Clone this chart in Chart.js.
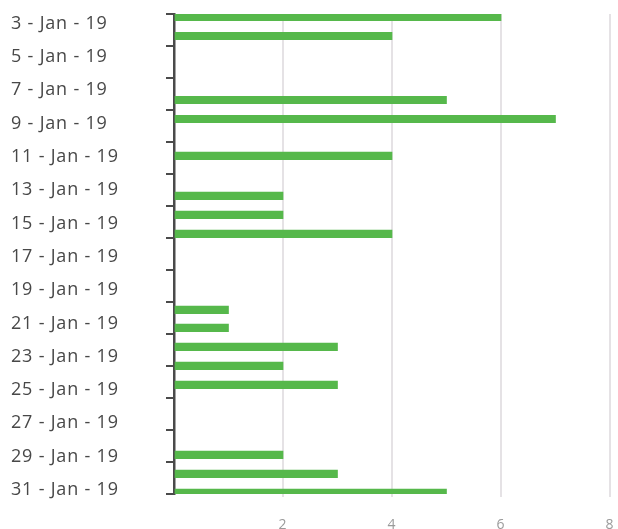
<!DOCTYPE html>
<html>
<head>
<meta charset="utf-8">
<script src="https://cdn.jsdelivr.net/npm/chart.js@4.4.1/dist/chart.umd.min.js"></script>
<style>
  html, body { margin: 0; padding: 0; background: #fff; overflow: hidden; }
  #wrap { width: 618px; height: 529px; }
</style>
</head>
<body>
<div id="wrap"><canvas id="chart"></canvas></div>
<script>
// day of January where each bar sits
const barDays = [2.61, 3.75, 7.59, 8.73, 10.95, 13.35, 14.49, 15.63, 20.19, 21.27, 22.41, 23.55, 24.69, 28.89, 30.03, 31.17];
const barValues = [6, 4, 5, 7, 4, 2, 2, 4, 1, 1, 3, 2, 3, 2, 3, 5];
const labelDays = [3, 5, 7, 9, 11, 13, 15, 17, 19, 21, 23, 25, 27, 29, 31];
const xTicks = [0, 2, 4, 6, 8];
const axisMarks = [0, 1, 2, 3, 4, 5, 6, 7, 8, 9, 10, 11, 12, 13, 14, 15];

const green = "#56b84b";
const axisColor = "#4a4a4a";
const gridColor = "rgba(80, 60, 80, 0.15)";
const fontFamily = "'Open Sans', sans-serif";

const points = barDays.map((d, i) => ({ x: barValues[i], y: d }));

// the original font is wider, spread the letters a little
const spacing = {
  id: "spacing",
  beforeDraw: (chart) => {
    chart.ctx.letterSpacing = "0.8px";
  },
};

new Chart(document.getElementById("chart"), {
  type: "bar",
  data: {
    datasets: [
      {
        data: points,
        backgroundColor: green,
        borderWidth: 0,
        barThickness: 7.5,
      },
    ],
  },
  plugins: [spacing],
  options: {
    indexAxis: "y",
    responsive: true,
    maintainAspectRatio: false,
    animation: false,
    layout: { padding: { left: 11, right: 8, top: 14, bottom: 0 } },
    plugins: {
      legend: { display: false },
      tooltip: { enabled: false },
    },
    scales: {
      x: {
        type: "linear",
        min: xTicks[0],
        max: xTicks[xTicks.length - 1],
        offset: false,
        z: 1,
        afterBuildTicks: (scale) => {
          scale.ticks = xTicks.map((v) => ({ value: v }));
        },
        afterFit: (scale) => {
          scale.height = 35;
          // keep the tick padding from eating the right edge
          scale.paddingLeft = 0;
          scale.paddingRight = 0;
        },
        border: { display: false },
        grid: {
          color: (ctx) => (ctx.tick && ctx.tick.value === 0 ? "rgba(0,0,0,0)" : gridColor),
          lineWidth: 2,
          tickLength: 3,
        },
        ticks: {
          color: "#9a9a9a",
          font: { family: fontFamily, size: 14 },
          padding: 20,
          callback: (v) => (v === 0 ? "" : v),
        },
      },
      y: {
        type: "linear",
        position: "left",
        weight: 1,
        reverse: true,
        offset: false,
        min: 2.43,
        max: 31.24,
        afterBuildTicks: (scale) => {
          scale.ticks = labelDays.map((v) => ({ value: v }));
        },
        afterFit: (scale) => {
          scale.width = 153;
        },
        border: { display: false },
        grid: { display: false, offset: false },
        ticks: {
          color: "#484848",
          font: { family: fontFamily, size: 18 },
          crossAlign: "far",
          padding: 0,
          callback: (v) => `${v} - Jan - 19`,
        },
      },
      yMarks: {
        type: "linear",
        position: "left",
        weight: 0,
        offset: false,
        min: axisMarks[0],
        max: axisMarks[axisMarks.length - 1],
        z: 1,
        afterBuildTicks: (scale) => {
          scale.ticks = axisMarks.map((v) => ({ value: v }));
        },
        afterFit: (scale) => {
          scale.width = 10;
        },
        border: { display: true, color: axisColor, width: 2.5 },
        grid: {
          offset: false,
          drawOnChartArea: false,
          drawTicks: true,
          tickLength: 8,
          color: axisColor,
          lineWidth: 2,
        },
        ticks: { display: false },
      },
    },
  },
});
</script>
</body>
</html>
